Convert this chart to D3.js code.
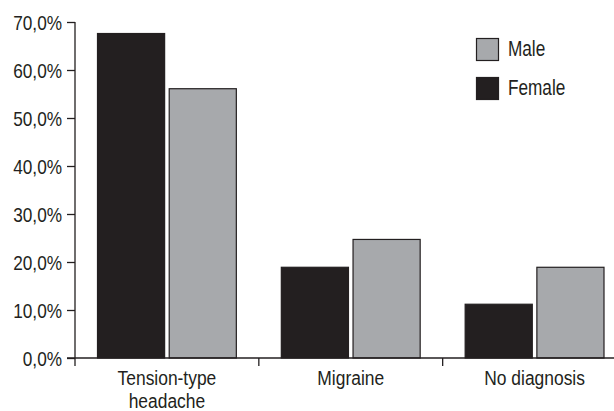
<!DOCTYPE html>
<html>
<head>
<meta charset="utf-8">
<script src="https://cdn.jsdelivr.net/npm/d3@7"></script>
<style>
  html, body { margin: 0; padding: 0; background: #fff; }
  svg text { font-family: "Liberation Sans Narrow", "Liberation Sans", Arial, sans-serif; fill: #231f20; }
</style>
</head>
<body>
<svg id="chart" width="614" height="411"></svg>
<script>
const categories = [["Tension-type", "headache"], ["Migraine"], ["No diagnosis"]];
const seriesNames = ["Female", "Male"];
const femaleValues = [67.6, 18.9, 11.2];
const maleValues = [56.1, 24.7, 18.9];
const yTicks = [0, 10, 20, 30, 40, 50, 60, 70];
const legendOrder = ["Male", "Female"];

const colors = { Female: "#231f20", Male: "#a7a9ac" };
const stroke = "#231f20";

const svg = d3.select("#chart");
const W = 614, H = 411;
const x0 = 75, x1 = 626.5;
const yBase = 358, yTop = 22;
const sx = 0.82;

const x = d3.scaleBand().domain(d3.range(categories.length)).range([x0, x1]).paddingInner(0).paddingOuter(0);
const y = d3.scaleLinear().domain([0, 70]).range([yBase, yTop]);
const xs = d3.scaleBand().domain(seriesNames).range([22, x.bandwidth() - 22]).paddingInner(0.05);

const data = categories.map((c, i) => ({ i, Female: femaleValues[i], Male: maleValues[i] }));

// bars
const g = svg.append("g");
data.forEach(d => {
  seriesNames.forEach(s => {
    g.append("rect")
      .attr("x", x(d.i) + xs(s) + 0.5)
      .attr("y", y(d[s]))
      .attr("width", xs.bandwidth() - 1)
      .attr("height", yBase - y(d[s]))
      .attr("fill", colors[s])
      .attr("stroke", stroke)
      .attr("stroke-width", 1.2);
  });
});

// y axis
const yAxis = d3.axisLeft(y).tickValues(yTicks).tickSize(8).tickPadding(5)
  .tickFormat(v => v.toFixed(1).replace(".", ",") + "%");
const ya = svg.append("g").attr("transform", `translate(${x0},0)`).call(yAxis);
ya.attr("font-family", null).attr("font-size", null);
ya.select(".domain").remove();
ya.selectAll(".tick line").attr("stroke", stroke).attr("stroke-width", 1.3);
ya.selectAll(".tick text")
  .attr("font-size", 21)
  .attr("x", 0)
  .attr("dy", "0.36em")
  .attr("transform", `translate(-13,0) scale(${sx},1)`);
svg.append("line").attr("x1", x0).attr("x2", x0).attr("y1", yTop).attr("y2", yBase + 8)
  .attr("stroke", stroke).attr("stroke-width", 1.3);

// x axis
svg.append("line").attr("x1", x0 - 8).attr("x2", W).attr("y1", yBase).attr("y2", yBase)
  .attr("stroke", stroke).attr("stroke-width", 1.3);
d3.range(1, categories.length).forEach(i => {
  svg.append("line").attr("x1", x(i)).attr("x2", x(i)).attr("y1", yBase).attr("y2", yBase + 8)
    .attr("stroke", stroke).attr("stroke-width", 1.3);
});
categories.forEach((lines, i) => {
  const cx = x(i) + x.bandwidth() / 2;
  const t = svg.append("text").attr("text-anchor", "middle").attr("font-size", 21)
    .attr("transform", `translate(${cx},385) scale(0.83,1)`);
  lines.forEach((ln, k) => {
    t.append("tspan").attr("x", 0).attr("y", k * 23).text(ln);
  });
});

// legend
legendOrder.forEach((s, k) => {
  const ly = 38 + k * 39;
  svg.append("rect").attr("x", 476.5).attr("y", ly + 0.5).attr("width", 22).attr("height", 22)
    .attr("fill", colors[s]).attr("stroke", stroke).attr("stroke-width", 1.2);
  svg.append("text").attr("font-size", 21.5)
    .attr("transform", `translate(508,${ly + 18}) scale(0.8,1)`).text(s);
});
</script>
</body>
</html>
